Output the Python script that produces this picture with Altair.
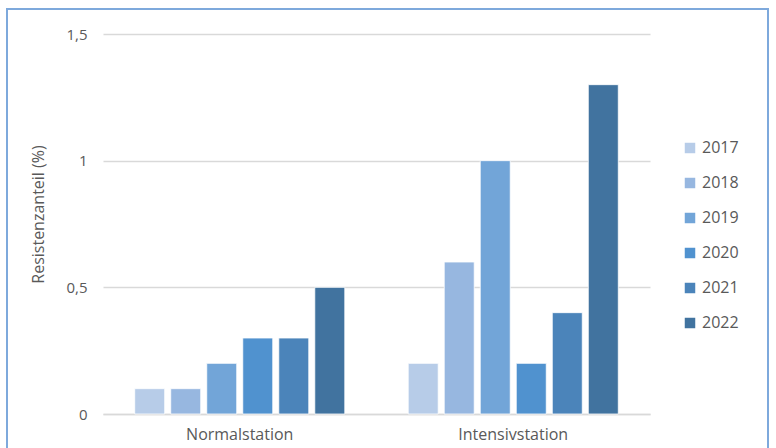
import altair as alt
import pandas as pd

stations = ["Normalstation", "Intensivstation"]
years = ["2017", "2018", "2019", "2020", "2021", "2022"]
normal = [0.1, 0.1, 0.2, 0.3, 0.3, 0.5]
intensiv = [0.2, 0.6, 1.0, 0.2, 0.4, 1.3]
colors = ["#B7CCE8", "#97B7E0", "#72A5D8", "#5092CF", "#4B84BA", "#41739F"]

rows = []
for y, v in zip(years, normal):
    rows.append({"Station": stations[0], "Jahr": y, "Wert": v})
for y, v in zip(years, intensiv):
    rows.append({"Station": stations[1], "Jahr": y, "Wert": v})
df = pd.DataFrame(rows)

FONT = "Open Sans"
GREY = "#595959"
FS = 16

bars = alt.Chart(df).mark_bar(stroke="white", strokeWidth=0.8).encode(
    x=alt.X("Station:N", sort=stations, title=None,
            scale=alt.Scale(paddingInner=0.21, paddingOuter=0.105),
            axis=alt.Axis(labelAngle=0, labelPadding=12, ticks=False,
                          domainColor="#D9D9D9", domainWidth=1.5,
                          labelFont=FONT, labelFontSize=FS, labelColor=GREY)),
    xOffset=alt.XOffset("Jahr:N", sort=years,
                        scale=alt.Scale(paddingInner=0.167, paddingOuter=0.083)),
    y=alt.Y("Wert:Q", title="Resistenzanteil (%)",
            scale=alt.Scale(domain=[0, 1.5]),
            axis=alt.Axis(values=[0, 0.5, 1, 1.5],
                          labelExpr="replace(format(datum.value, ''), '.', ',')",
                          ticks=False, domain=False, labelPadding=16,
                          gridColor="#D9D9D9", gridWidth=1.5,
                          labelFont=FONT, labelFontSize=15, labelColor=GREY,
                          titleFont=FONT, titleFontSize=FS, titleColor=GREY,
                          titleFontWeight="normal", titlePadding=19,
                          titleY=180)),
    color=alt.Color("Jahr:N", sort=years, title=None,
                    scale=alt.Scale(domain=years, range=colors),
                    legend=alt.Legend(orient="none", legendX=579, legendY=106,
                                      symbolType="square", symbolSize=110,
                                      symbolStrokeWidth=0, rowPadding=19,
                                      labelFont=FONT, labelFontSize=FS,
                                      labelColor=GREY, labelOffset=4)),
)

border = alt.Chart(pd.DataFrame({"a": [0]})).mark_rect(
    fillOpacity=0, stroke="#7EA9DC", strokeWidth=2, clip=False
).encode(
    x=alt.value(-96), x2=alt.value(665), y=alt.value(-25), y2=alt.value(440)
)

chart = alt.layer(bars, border).properties(
    width=547, height=380,
    autosize=alt.AutoSizeParams(type="none"),
    padding={"left": 103, "top": 34, "right": 126, "bottom": 34},
    background="white",
).configure_view(stroke=None)

chart.save("out.html", embed_options={"renderer": "svg", "actions": False})
